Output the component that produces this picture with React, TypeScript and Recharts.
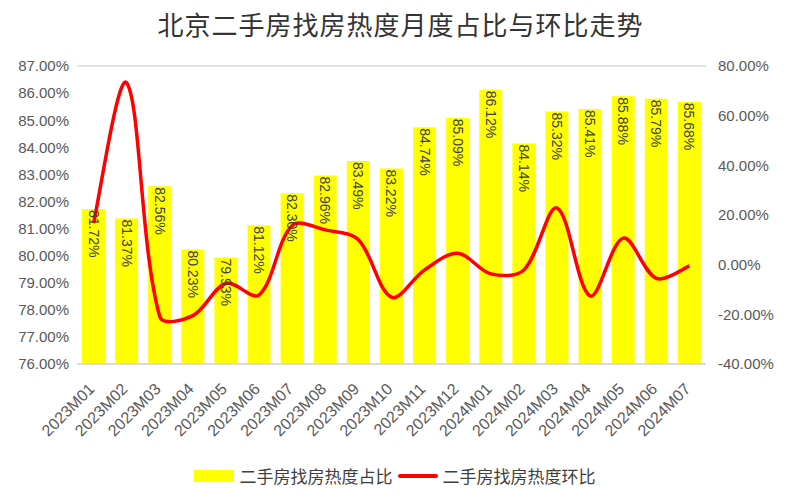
import React from 'react';
import {
  Bar,
  CartesianGrid,
  ComposedChart,
  LabelList,
  Line,
  XAxis,
  YAxis,
} from 'recharts';

const months = [
  '2023M01', '2023M02', '2023M03', '2023M04', '2023M05', '2023M06', '2023M07',
  '2023M08', '2023M09', '2023M10', '2023M11', '2023M12', '2024M01', '2024M02',
  '2024M03', '2024M04', '2024M05', '2024M06', '2024M07',
];

// 二手房找房热度占比 (%)
const shareValues = [
  81.72, 81.37, 82.56, 80.23, 79.93, 81.12, 82.3, 82.96, 83.49, 83.22, 84.74,
  85.09, 86.12, 84.14, 85.32, 85.41, 85.88, 85.79, 85.68,
];

// 二手房找房热度环比 (%)
const momValues = [
  16.7, 73.3, -20.9, -20.5, -7.5, -12.2, 15.8, 14.0, 10.0, -13.1, -2.1, 4.6,
  -3.7, -2.1, 22.8, -12.6, 10.7, -5.5, -0.5,
];

const leftTicks = [76, 77, 78, 79, 80, 81, 82, 83, 84, 85, 86, 87];
const rightTicks = [-40, -20, 0, 20, 40, 60, 80];

const shareName = '二手房找房热度占比';
const momName = '二手房找房热度环比';

const chartData = months.map((month, i) => ({
  month,
  share: shareValues[i],
  mom: momValues[i],
}));

const latinFont = '"Liberation Sans", Arial, sans-serif';
const cjkFont = '"Noto Sans CJK SC", "Noto Sans", sans-serif';

// office-style smoothed line: bezier segments, tangents scaled by segment length
const smoothCurve = (context: any) => {
  let pts: number[][] = [];
  const dist = (a: number[], b: number[]) => Math.hypot(b[0] - a[0], b[1] - a[1]);
  return {
    areaStart() {},
    areaEnd() {},
    lineStart() {
      pts = [];
    },
    point(x: number, y: number) {
      pts.push([+x, +y]);
    },
    lineEnd() {
      if (!pts.length) return;
      const f = 1 / 6;
      context.moveTo(pts[0][0], pts[0][1]);
      for (let i = 0; i < pts.length - 1; i++) {
        const p0 = pts[i - 1] || pts[i];
        const p1 = pts[i];
        const p2 = pts[i + 1];
        const p3 = pts[i + 2] || p2;
        const d01 = dist(p0, p1);
        const d12 = dist(p1, p2);
        const d23 = dist(p2, p3);
        const f1 = d01 + d12 > 0 ? (2 * f * d12) / (d01 + d12) : 0;
        const f2 = d12 + d23 > 0 ? (2 * f * d12) / (d12 + d23) : 0;
        const a = i === 0 ? f : f1;
        const b = i === pts.length - 2 ? f : f2;
        context.bezierCurveTo(
          p1[0] + (p2[0] - p0[0]) * a,
          p1[1] + (p2[1] - p0[1]) * a,
          p2[0] - (p3[0] - p1[0]) * b,
          p2[1] - (p3[1] - p1[1]) * b,
          p2[0],
          p2[1]
        );
      }
    },
  };
};

const BarValueLabel = (props: any) => {
  const { x, y, width, value } = props;
  const cx = x + width / 2;
  const ty = y + 1;
  return (
    <text
      x={cx}
      y={ty}
      transform={`rotate(90 ${cx} ${ty})`}
      textAnchor='start'
      dominantBaseline='central'
      fontSize={14}
      fontFamily={latinFont}
      fill='#404040'
    >
      {Number(value).toFixed(2)}%
    </text>
  );
};

const MonthTick = (props: any) => {
  const { x, y, payload } = props;
  const tx = x + 2;
  const ty = y + 26;
  return (
    <text
      x={tx}
      y={ty}
      transform={`rotate(-45 ${tx} ${ty})`}
      textAnchor='end'
      fontSize={16}
      fontFamily={latinFont}
      fill='#595959'
    >
      {payload.value}
    </text>
  );
};

export default function App() {
  return (
    <div
      style={{
        position: 'absolute',
        left: 0,
        top: 0,
        width: 789,
        height: 500,
        background: '#fff',
      }}
    >
      <div
        style={{
          position: 'absolute',
          top: 5,
          left: 0,
          width: 789,
          textAlign: 'center',
          fontFamily: cjkFont,
          fontSize: 26,
          letterSpacing: 1,
          color: '#333',
          paddingLeft: 6,
        }}
      >
        北京二手房找房热度月度占比与环比走势
      </div>
      <ComposedChart
        width={789}
        height={500}
        data={chartData}
        margin={{ top: 66, right: 0, left: 0, bottom: 56 }}
      >
        <CartesianGrid vertical={false} stroke='#d9d9d9' strokeWidth={1.5} />
        <XAxis
          dataKey='month'
          interval={0}
          height={80}
          tickLine={false}
          tickSize={0}
          tickMargin={0}
          axisLine={{ stroke: '#d9d9d9', strokeWidth: 1.5 }}
          tick={<MonthTick />}
        />
        <YAxis
          yAxisId='left'
          width={77}
          domain={[76, 87]}
          ticks={leftTicks}
          allowDataOverflow
          tickFormatter={(v: number) => `${v.toFixed(2)}%`}
          axisLine={false}
          tickLine={false}
          tick={{ fontSize: 15, fill: '#595959', fontFamily: latinFont }}
        />
        <YAxis
          yAxisId='right'
          orientation='right'
          width={83}
          domain={[-40, 80]}
          ticks={rightTicks}
          tickFormatter={(v: number) => `${v.toFixed(2)}%`}
          axisLine={false}
          tickLine={false}
          tickMargin={6}
          tick={{ fontSize: 15, fill: '#595959', fontFamily: latinFont }}
        />
        <Bar
          yAxisId='left'
          dataKey='share'
          name={shareName}
          fill='#ffff00'
          barSize={23}
          isAnimationActive={false}
        >
          <LabelList dataKey='share' content={<BarValueLabel />} />
        </Bar>
        <Line
          yAxisId='right'
          dataKey='mom'
          name={momName}
          type={smoothCurve as any}
          stroke='#ff0000'
          strokeWidth={3.5}
          dot={false}
          activeDot={false}
          isAnimationActive={false}
        />
      </ComposedChart>
      <div
        style={{
          position: 'absolute',
          top: 463,
          left: 0,
          width: 789,
          display: 'flex',
          justifyContent: 'center',
          alignItems: 'center',
          fontFamily: cjkFont,
          fontSize: 17,
          color: '#404040',
        }}
      >
        <span
          style={{
            display: 'inline-block',
            width: 40,
            height: 12,
            background: '#ffff00',
            marginRight: 6,
          }}
        />
        <span>{shareName}</span>
        <span
          style={{
            display: 'inline-block',
            width: 40,
            height: 4,
            borderRadius: 2,
            background: '#ff0000',
            margin: '0 5px',
          }}
        />
        <span>{momName}</span>
      </div>
    </div>
  );
}
